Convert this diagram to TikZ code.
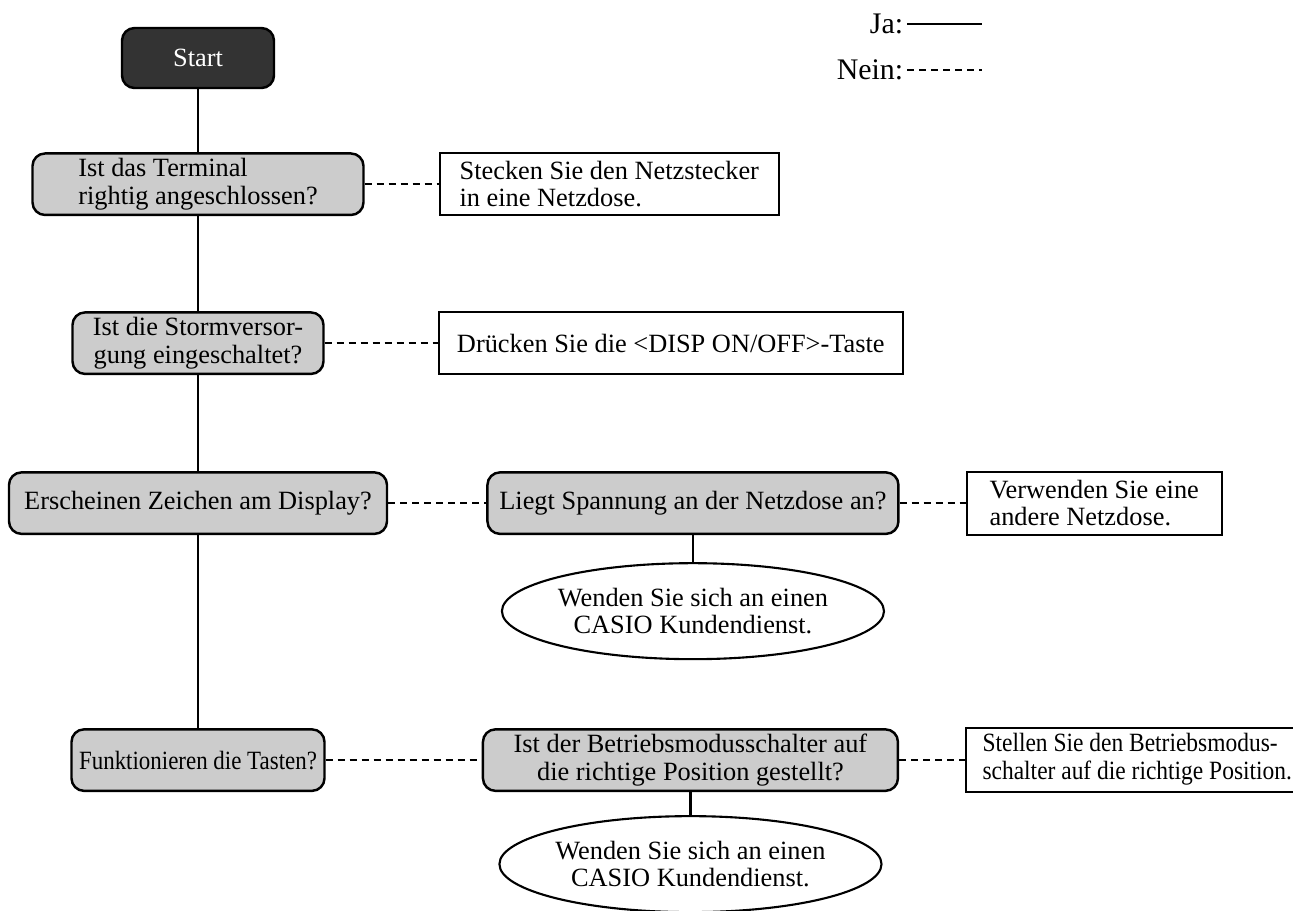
\documentclass[tikz,border=0pt]{standalone}
\usepackage{fontspec}
\setmainfont{Liberation Serif}
\usepackage{graphicx}
\usetikzlibrary{shapes.geometric,positioning}

\begin{document}
\begin{tikzpicture}[
	font=\fontsize{15pt}{15.5pt}\selectfont,
	node distance=1.3cm,
	frage/.style={rectangle, rounded corners=0.25cm, draw, line width=1.4pt, fill=black!20, minimum height=1.23cm, align=center, inner sep=2pt},
	hinweis/.style={rectangle, draw, line width=1.2pt, fill=white, minimum height=1.24cm, align=left, inner sep=2pt},
	ende/.style={ellipse, draw, line width=1.2pt, minimum width=6.86cm, minimum height=1.92cm, align=center, inner sep=0pt},
	startnode/.style={rectangle, rounded corners=0.25cm, draw, line width=1.4pt, fill=black!80, text=white, minimum width=3.04cm, minimum height=1.2cm},
	legende/.style={anchor=east, inner sep=2pt, font=\fontsize{17pt}{19pt}\selectfont},
	ja/.style={line width=1.3pt},
	nein/.style={line width=1.3pt, dash pattern=on 0.14cm off 0.1cm}
]
\useasboundingbox (-3.96,1.16) rectangle (21.9,-17.04);

% --- Hauptstrang ---
\node[startnode] (start) {Start};
\node[frage, minimum width=6.62cm, align=left, below=1.26cm of start] (terminal) {Ist das Terminal\\rightig angeschlossen?};
\node[frage, minimum width=5.02cm, below=1.9cm of terminal] (strom) {Ist die Stormversor-\\gung eingeschaltet?};
\node[frage, minimum width=7.56cm, below=1.92cm of strom] (display) {Erscheinen Zeichen am Display?};
\node[frage, minimum width=5.06cm, below=3.86cm of display] (tasten) {\scalebox{0.87}[1]{Funktionieren die Tasten?}};

\draw[ja] (start) -- (terminal);
\draw[ja] (terminal) -- (strom);
\draw[ja] (strom) -- (display);
\draw[ja] (display) -- (tasten);

% --- Nein-Zweige ---
\node[hinweis, minimum width=6.78cm, right=1.48cm of terminal] (stecker) {Stecken Sie den Netzstecker\\in eine Netzdose.};
\node[hinweis, minimum width=9.28cm, right=2.26cm of strom] (taste) {Drücken Sie die <DISP ON/OFF>-Taste};
\node[frage, minimum width=8.22cm, right=1.96cm of display] (spannung) {Liegt Spannung an der Netzdose an?};
\node[hinweis, minimum width=5.1cm, minimum height=1.26cm, right=1.32cm of spannung] (dose) {Verwenden Sie eine\\andere Netzdose.};
\node[ende, below=0.54cm of spannung] (kunde1) {Wenden Sie sich an einen\\CASIO Kundendienst.};

\node[frage, minimum width=8.3cm, right=3.12cm of tasten] (modus) {Ist der Betriebsmodusschalter auf\\die richtige Position gestellt?};
\node[hinweis, minimum width=6.84cm, minimum height=1.28cm, right=1.32cm of modus] (stellen) {\scalebox{0.89}[1]{\begin{tabular}{@{}l@{}}Stellen Sie den Betriebsmodus-\\schalter auf die richtige Position.\end{tabular}}};
\node[ende, below=0.46cm of modus] (kunde2) {Wenden Sie sich an einen\\CASIO Kundendienst.};

\draw[nein] (terminal) -- (stecker);
\draw[nein] (strom) -- (taste);
\draw[nein] (display) -- (spannung);
\draw[nein] (spannung) -- (dose);
\draw[nein] (tasten) -- (modus);
\draw[nein] (modus) -- (stellen);
\draw[ja] (spannung) -- (kunde1);
\draw[ja] (modus) -- (kunde2);

% --- Legende ---
\node[legende] (jatext) at (14.18,0.68) {Ja:};
\node[legende] (neintext) at (14.18,-0.24) {Nein:};
\coordinate (jaende) at (15.68,0.68);
\coordinate (neinende) at (15.68,-0.24);
\draw[ja] (jatext) -- (jaende);
\draw[nein] (neintext) -- (neinende);

\end{tikzpicture}
\end{document}
